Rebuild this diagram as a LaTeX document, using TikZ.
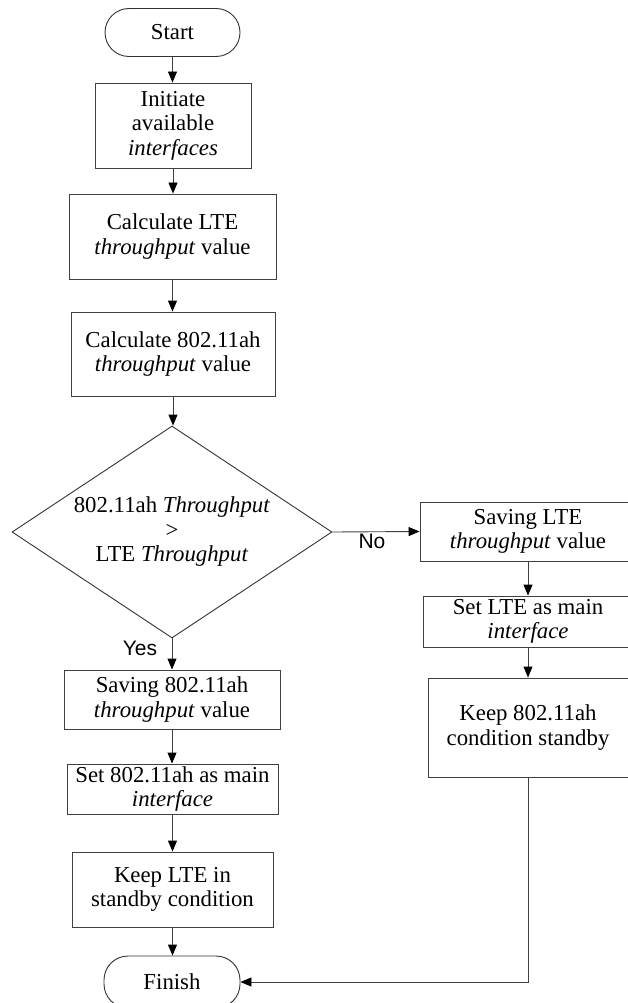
\documentclass[tikz,border=0pt]{standalone}
\usepackage{fontspec}
\setmainfont{Liberation Serif}
\newfontfamily\lblfont{Liberation Sans}
\usetikzlibrary{shapes.geometric,arrows.meta}
\begin{document}
\begin{tikzpicture}[x=1pt,y=-1pt,
  every node/.style={font=\fontsize{22.8}{24.5}\selectfont, align=center, inner sep=0pt},
  box/.style={draw=black!75, line width=0.9pt, rectangle},
  term/.style={draw=black!80, line width=0.9pt, rectangle, rounded corners=24pt},
  dec/.style={draw=black!80, line width=0.9pt, diamond, shape aspect=1.51},
  arr/.style={draw=black!75, line width=0.9pt, -{Triangle[length=11pt,width=9pt,color=black]}},
  lbl/.style={font=\lblfont\fontsize{21}{23}\selectfont}]
\useasboundingbox (0,0) rectangle (627,1003);
\node[term, minimum width=135pt, minimum height=48pt] (start) at (172.5,32.5) {Start};
\node[box, minimum width=156pt, minimum height=85pt] (init) at (173,125.5) {Initiate\\available\\\textit{interfaces}};
\node[box, minimum width=207pt, minimum height=85pt] (calclte) at (172.5,236.5) {Calculate LTE\\\textit{throughput} value};
\node[box, minimum width=204pt, minimum height=84pt] (calcah) at (173,354) {Calculate 802.11ah\\\textit{throughput} value};
\node[dec, minimum width=320pt, minimum height=212pt] (dec) at (172,532) {802.11ah \textit{Throughput}\\>\\LTE \textit{Throughput}};
\node[box, minimum width=216pt, minimum height=59pt] (savelte) at (528,531.5) {Saving LTE\\\textit{throughput} value};
\node[box, minimum width=210pt, minimum height=51pt] (setlte) at (528,621.5) {Set LTE as main\\\textit{interface}};
\node[box, minimum width=200pt, minimum height=99pt] (keepah) at (528,727.5) {Keep 802.11ah\\condition standby};
\node[box, minimum width=216pt, minimum height=59pt] (saveah) at (172,699.5) {Saving 802.11ah\\\textit{throughput} value};
\node[box, minimum width=211pt, minimum height=50pt] (setah) at (172.5,789) {Set 802.11ah as main\\\textit{interface}};
\node[box, minimum width=201pt, minimum height=75pt] (keeplte) at (172.5,889.5) {Keep LTE in\\standby condition};
\node[term, minimum width=136pt, minimum height=52pt] (finish) at (172,982) {Finish};
\draw[arr] (start) -- (start |- init.north);
\draw[arr] (init.south) -- (init.south |- calclte.north);
\draw[arr] (calclte.south) -- (calclte.south |- calcah.north);
\draw[arr] (calcah.south) -- (calcah.south |- dec.north);
\draw[arr] (dec.east) -- (savelte.west);
\draw[arr] (dec.south) -- (dec.south |- saveah.north);
\draw[arr] (savelte.south) -- (savelte.south |- setlte.north);
\draw[arr] (setlte.south) -- (setlte.south |- keepah.north);
\draw[arr] (saveah.south) -- (saveah.south |- setah.north);
\draw[arr] (setah.south) -- (setah.south |- keeplte.north);
\draw[arr] (keeplte.south) -- (keeplte.south |- finish.north);
\draw[arr] (keepah.south) |- (finish.east);
\node[lbl] (no) at (372,541) {No};
\node[lbl] (yes) at (140,648) {Yes};
\end{tikzpicture}
\end{document}
